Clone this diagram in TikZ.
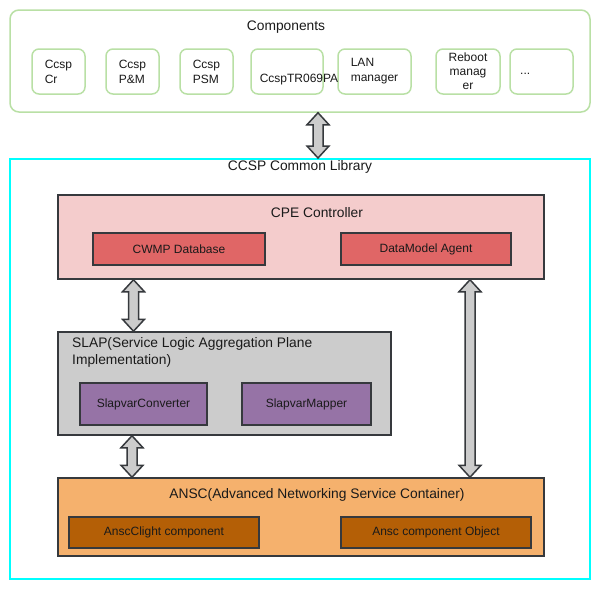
\documentclass[tikz,border=0pt]{standalone}
\usepackage{fontspec}
\setmainfont{Liberation Sans}
\usetikzlibrary{calc}
\definecolor{grn}{HTML}{B9E0A5}
\definecolor{cyn}{HTML}{00FFFF}
\definecolor{dk}{HTML}{36393D}
\definecolor{txt}{HTML}{1A1A1A}
\definecolor{cpefill}{HTML}{F4CCCC}
\definecolor{cpein}{HTML}{E06666}
\definecolor{slapfill}{HTML}{CCCCCC}
\definecolor{slapin}{HTML}{9673A6}
\definecolor{anscfill}{HTML}{F5B16D}
\definecolor{anscin}{HTML}{B45F06}
\definecolor{arrg}{HTML}{CCCCCC}
\tikzset{
  grnbox/.style={draw=grn, line width=1.5pt, rounded corners=7pt, fill=white, inner sep=0pt, text=txt},
  blkbox/.style={draw=dk, line width=1.5pt, inner sep=0pt, text=txt},
  barrow/.style={draw=dk, fill=arrg, line width=1.5pt, line join=miter},
  lbl/.style={inner sep=0pt, text=txt},
  ttl/.style={inner sep=0pt, text=txt, font=\fontsize{13.8}{17}\selectfont}
}
\newcommand\dblarrow[2]{%
  \draw[barrow] (#1) -- ($(#1)+(11,12)$) -- ($(#1)+(5,12)$) -- ($(#2)+(5,-12)$) -- ($(#2)+(11,-12)$) -- (#2) -- ($(#2)+(-11,-12)$) -- ($(#2)+(-5,-12)$) -- ($(#1)+(-5,12)$) -- ($(#1)+(-11,12)$) -- cycle;}
\begin{document}
\begin{tikzpicture}[x=1pt,y=-1pt,font=\fontsize{12}{15}\selectfont]
\useasboundingbox[fill=white] (0,0) rectangle (610,600);
% Components
\node[grnbox, rounded corners=9pt, minimum width=580pt, minimum height=102pt] (comp) at (300,61) {};
\node[ttl] (comptitle) at (286,27) {Components};
\node[grnbox, minimum width=53pt, minimum height=45pt, align=left] (cr) at (58.5,71.5) {Ccsp\\Cr};
\node[grnbox, minimum width=53pt, minimum height=45pt, align=left] (pm) at (132.5,71.5) {Ccsp\\P\&M};
\node[grnbox, minimum width=53pt, minimum height=45pt, align=left] (psm) at (206.5,71.5) {Ccsp\\PSM};
\node[grnbox, minimum width=72pt, minimum height=45pt] (tr) at (287,71.5) {};
\node[grnbox, minimum width=73pt, minimum height=45pt, align=left] (lan) at (374.5,71.5) {LAN\\manager};
\node[grnbox, minimum width=64pt, minimum height=45pt, align=center, font=\fontsize{12}{14}\selectfont] (reb) at (468,71.5) {Reboot\\manag\\er};
\node[grnbox, minimum width=63pt, minimum height=45pt] (dots) at (541.5,71.5) {};
\node[lbl] (trtext) at (299,80) {CcspTR069PA};
\node[lbl, anchor=west] (dotstext) at (520,74) {...};
% CCSP Common Library
\node[draw=cyn, line width=2pt, minimum width=580pt, minimum height=420pt, inner sep=0pt] (lib) at (300,369) {};
\node[ttl] (libtitle) at (300,167) {CCSP Common Library};
% CPE
\node[blkbox, fill=cpefill, minimum width=486pt, minimum height=84pt] (cpe) at (301,237) {};
\node[ttl] (cpetitle) at (317,213) {CPE Controller};
\node[blkbox, fill=cpein, minimum width=172pt, minimum height=32pt] (cwmp) at (179,249) {CWMP Database};
\node[blkbox, fill=cpein, minimum width=170pt, minimum height=32pt] (dma) at (426,249) {DataModel Agent};
% SLAP
\node[blkbox, fill=slapfill, minimum width=333pt, minimum height=103pt] (slap) at (224.5,383.5) {};
\node[ttl, anchor=north west, align=left] (slaptitle) at (72,337) {SLAP(Service Logic Aggregation Plane\\Implementation)};
\node[blkbox, fill=slapin, minimum width=127pt, minimum height=42pt] (sc) at (143.5,404) {SlapvarConverter};
\node[blkbox, fill=slapin, minimum width=129pt, minimum height=42pt] (sm) at (306.5,404) {SlapvarMapper};
% ANSC
\node[blkbox, fill=anscfill, minimum width=486pt, minimum height=78pt] (ansc) at (301,517) {};
\node[ttl] (ansctitle) at (317,495) {ANSC(Advanced Networking Service Container)};
\node[blkbox, fill=anscin, minimum width=190pt, minimum height=31pt] (ac) at (164,532.5) {AnscClight component};
\node[blkbox, fill=anscin, minimum width=190pt, minimum height=31pt] (ao) at (436,532.5) {Ansc component Object};
% arrows
\coordinate (x1) at (318,0);
\coordinate (x2) at (133.5,0);
\coordinate (x3) at (132,0);
\coordinate (x4) at (470,0);
\coordinate (a1t) at (x1 |- comp.south);
\coordinate (a1b) at (x1 |- lib.north);
\coordinate (a2t) at (x2 |- cpe.south);
\coordinate (a2b) at (x2 |- slap.north);
\coordinate (a3t) at (x3 |- slap.south);
\coordinate (a3b) at (x3 |- ansc.north);
\coordinate (a4t) at (x4 |- cpe.south);
\coordinate (a4b) at (x4 |- ansc.north);
\dblarrow{a1t}{a1b}
\dblarrow{a2t}{a2b}
\dblarrow{a3t}{a3b}
\dblarrow{a4t}{a4b}
\end{tikzpicture}
\end{document}
